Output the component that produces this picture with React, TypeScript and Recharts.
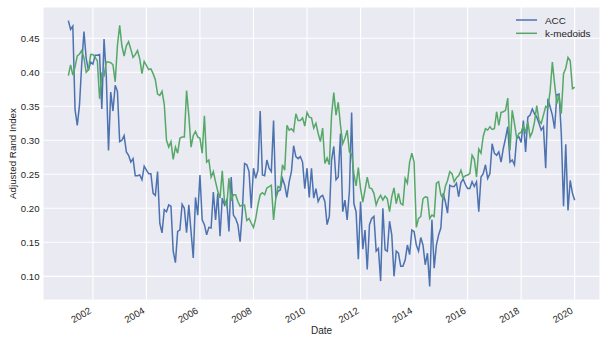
import { CartesianGrid, Line, LineChart, XAxis, YAxis } from "recharts";

const FONT = '"Liberation Sans", Arial, sans-serif';
const TEXT = "#262626";
const ACC_COLOR = "#4C72B0";
const KMED_COLOR = "#55A868";

// monthly, Jan 2001 .. Dec 2019
const startYear = 2001;

const accValues = [
  0.476, 0.463, 0.468, 0.345, 0.322, 0.352, 0.413, 0.46, 0.42, 0.403,
  0.415, 0.412, 0.425, 0.425, 0.426, 0.346, 0.449, 0.395, 0.285, 0.371,
  0.343, 0.381, 0.372, 0.298, 0.3, 0.307, 0.283, 0.278, 0.268, 0.273,
  0.248, 0.248, 0.249, 0.242, 0.262, 0.256, 0.251, 0.251, 0.222, 0.219,
  0.254, 0.178, 0.164, 0.198, 0.195, 0.205, 0.203, 0.137, 0.12, 0.166,
  0.168, 0.206, 0.2, 0.164, 0.205, 0.166, 0.127, 0.216, 0.19, 0.249,
  0.183, 0.176, 0.161, 0.172, 0.171, 0.224, 0.183, 0.222, 0.159, 0.215,
  0.205, 0.212, 0.166, 0.246, 0.19, 0.185, 0.176, 0.151, 0.195, 0.266,
  0.264, 0.254, 0.2, 0.259, 0.244, 0.256, 0.343, 0.249, 0.248, 0.271,
  0.259, 0.254, 0.329, 0.215, 0.225, 0.227, 0.244, 0.234, 0.216, 0.239,
  0.254, 0.292, 0.276, 0.273, 0.276, 0.268, 0.229, 0.259, 0.216, 0.259,
  0.215, 0.229, 0.21, 0.217, 0.219, 0.21, 0.176, 0.188, 0.271, 0.291,
  0.242, 0.246, 0.31, 0.195, 0.212, 0.183, 0.225, 0.341, 0.207, 0.195,
  0.125, 0.21, 0.14, 0.168, 0.11, 0.176, 0.185, 0.188, 0.137, 0.141,
  0.093, 0.2, 0.139, 0.137, 0.181, 0.161, 0.1, 0.137, 0.134, 0.115,
  0.115, 0.124, 0.146, 0.132, 0.168, 0.166, 0.146, 0.137, 0.157, 0.146,
  0.117, 0.134, 0.085, 0.183, 0.112, 0.146, 0.161, 0.171, 0.222, 0.21,
  0.193, 0.234, 0.232, 0.232, 0.237, 0.217, 0.238, 0.243, 0.235, 0.229,
  0.229, 0.239, 0.232, 0.239, 0.195, 0.246, 0.251, 0.264, 0.244, 0.251,
  0.295, 0.281, 0.278, 0.283, 0.268, 0.288, 0.303, 0.32, 0.268, 0.271,
  0.264, 0.303, 0.305, 0.297, 0.329, 0.283, 0.334, 0.337, 0.346, 0.339,
  0.334, 0.325, 0.315, 0.32, 0.259, 0.361, 0.349, 0.337, 0.317, 0.367,
  0.368, 0.31, 0.203, 0.294, 0.197, 0.241, 0.222, 0.212,
];

const kMedoidsValues = [
  0.395, 0.411, 0.396, 0.408, 0.424, 0.427, 0.432, 0.421, 0.4, 0.404,
  0.426, 0.426, 0.422, 0.417, 0.361, 0.398, 0.395, 0.415, 0.415, 0.414,
  0.411, 0.386, 0.439, 0.469, 0.439, 0.424, 0.439, 0.445, 0.434, 0.422,
  0.426, 0.432, 0.42, 0.398, 0.416, 0.41, 0.404, 0.405, 0.398, 0.389,
  0.368, 0.366, 0.372, 0.353, 0.3, 0.29, 0.298, 0.272, 0.29, 0.281,
  0.303, 0.305, 0.305, 0.373, 0.337, 0.29, 0.307, 0.313, 0.305, 0.303,
  0.281, 0.336, 0.268, 0.271, 0.246, 0.254, 0.239, 0.225, 0.215, 0.255,
  0.21, 0.203, 0.244, 0.211, 0.22, 0.22, 0.21, 0.203, 0.205, 0.205,
  0.182, 0.185, 0.178, 0.172, 0.185, 0.205, 0.22, 0.223, 0.22, 0.23,
  0.232, 0.234, 0.183, 0.215, 0.232, 0.23, 0.264, 0.256, 0.322, 0.315,
  0.317, 0.313, 0.339, 0.329, 0.329, 0.333, 0.321, 0.341, 0.334, 0.333,
  0.318, 0.325, 0.31, 0.298, 0.318, 0.266, 0.274, 0.264, 0.337, 0.37,
  0.337, 0.356, 0.322, 0.295, 0.303, 0.315, 0.283, 0.28, 0.251, 0.233,
  0.26, 0.229, 0.209, 0.227, 0.246, 0.23, 0.229, 0.222, 0.205, 0.214,
  0.219, 0.212, 0.218, 0.214, 0.195, 0.217, 0.23, 0.207, 0.222, 0.207,
  0.205, 0.244, 0.237, 0.268, 0.281, 0.268, 0.172, 0.185, 0.188, 0.214,
  0.217, 0.216, 0.185, 0.19, 0.188, 0.237, 0.239, 0.22, 0.214, 0.232,
  0.241, 0.254, 0.251, 0.239, 0.245, 0.248, 0.256, 0.245, 0.248, 0.249,
  0.251, 0.278, 0.272, 0.246, 0.287, 0.281, 0.306, 0.317, 0.315, 0.32,
  0.316, 0.317, 0.342, 0.322, 0.341, 0.342, 0.344, 0.362, 0.285, 0.344,
  0.325, 0.303, 0.31, 0.312, 0.321, 0.312, 0.327, 0.305, 0.312, 0.327,
  0.351, 0.329, 0.325, 0.337, 0.35, 0.347, 0.373, 0.415, 0.383, 0.354,
  0.366, 0.339, 0.398, 0.406, 0.422, 0.417, 0.376, 0.378,
];

const yearTicks = [2002, 2004, 2006, 2008, 2010, 2012, 2014, 2016, 2018, 2020];
const valueTicks = [0.1, 0.15, 0.2, 0.25, 0.3, 0.35, 0.4, 0.45];

const seriesNames = { acc: "ACC", kmedoids: "k-medoids" };

const data = accValues.map((acc, i) => ({
  date: startYear + (i + 1) / 12,
  acc,
  kmedoids: kMedoidsValues[i],
}));

function YearTick({ x, y, payload }: any) {
  const ax = x - 1;
  const ay = y + 12.7;
  return (
    <text
      x={ax}
      y={ay}
      transform={`rotate(-30, ${ax}, ${ay})`}
      textAnchor="end"
      fill={TEXT}
      fontSize={9.6}
      fontFamily={FONT}
    >
      {payload.value}
    </text>
  );
}

export default function App() {
  return (
    <div style={{ position: "fixed", left: 0, top: 0, width: 607, height: 343, background: "#fff" }}>
      <LineChart width={607} height={343} data={data} margin={{ top: 7, right: 7, bottom: 13, left: 0 }}>
        <CartesianGrid fill="#EAEAF2" stroke="#fff" strokeWidth={1.1} />
        <XAxis
          type="number"
          dataKey="date"
          domain={[2000.136, 2020.946]}
          ticks={yearTicks}
          interval={0}
          allowDataOverflow
          axisLine={false}
          tickLine={false}
          tickSize={0}
          tickMargin={0}
          height={30}
          tick={<YearTick />}
        />
        <YAxis
          type="number"
          domain={[0.0652, 0.496]}
          ticks={valueTicks}
          interval={0}
          allowDataOverflow
          axisLine={false}
          tickLine={false}
          tickSize={0}
          tickMargin={3.5}
          width={43}
          tickFormatter={(v: number) => v.toFixed(2)}
          tick={{ fill: TEXT, fontSize: 9.6, fontFamily: FONT }}
        />
        <Line type="linear" dataKey="acc" name={seriesNames.acc} stroke={ACC_COLOR} strokeWidth={1.5} dot={false} isAnimationActive={false} />
        <Line type="linear" dataKey="kmedoids" name={seriesNames.kmedoids} stroke={KMED_COLOR} strokeWidth={1.5} dot={false} isAnimationActive={false} />
      </LineChart>
      <svg width={607} height={343} style={{ position: "absolute", left: 0, top: 0, pointerEvents: "none" }}>
        <text x={321.5} y={334.3} textAnchor="middle" fill={TEXT} fontSize={10} fontFamily={FONT}>
          Date
        </text>
        <text x={16} y={153.5} transform="rotate(-90, 16, 153.5)" textAnchor="middle" fill={TEXT} fontSize={9.8} fontFamily={FONT}>
          Adjusted Rand Index
        </text>
        <line x1={516} x2={537} y1={20} y2={20} stroke={ACC_COLOR} strokeWidth={1.5} />
        <text x={545} y={23.5} fill={TEXT} fontSize={9.9} fontFamily={FONT}>
          {seriesNames.acc}
        </text>
        <line x1={516} x2={537} y1={33.3} y2={33.3} stroke={KMED_COLOR} strokeWidth={1.5} />
        <text x={545} y={36.8} fill={TEXT} fontSize={9.9} fontFamily={FONT}>
          {seriesNames.kmedoids}
        </text>
      </svg>
    </div>
  );
}
